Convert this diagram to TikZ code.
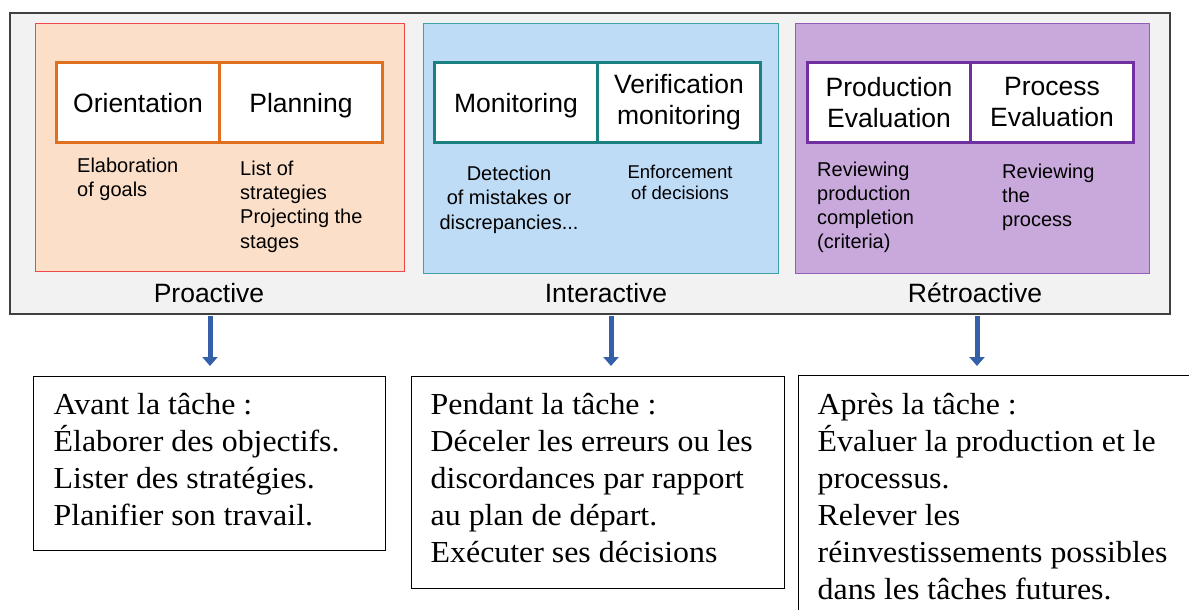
\documentclass[tikz,border=0pt]{standalone}
\usepackage{fontspec}
\setmainfont{Liberation Serif}
\setsansfont{Liberation Sans}
\newfontfamily\bfam[FakeStretch=1.045]{Liberation Serif}
\usetikzlibrary{arrows.meta}
\definecolor{outerfill}{HTML}{F2F2F2}
\definecolor{outerline}{HTML}{404040}
\definecolor{orfill}{HTML}{FBDFC9}
\definecolor{orline}{HTML}{F04848}
\definecolor{orbox}{HTML}{E0701E}
\definecolor{blfill}{HTML}{BFDCF7}
\definecolor{blline}{HTML}{3FA3A3}
\definecolor{blbox}{HTML}{1A8080}
\definecolor{pufill}{HTML}{C9A9DC}
\definecolor{puline}{HTML}{9060B8}
\definecolor{pubox}{HTML}{7030A0}
\definecolor{arrcol}{HTML}{3360A8}
\tikzset{
  panel/.style={draw, line width=1.4pt, anchor=north west, inner sep=0pt},
  inbox/.style={draw, fill=white, line width=3pt, minimum width=163pt, minimum height=79pt,
    inner sep=0pt, align=center, font=\sffamily\fontsize{26.5}{31}\selectfont},
  oneline/.style={text height=19pt, text depth=0pt},
  small/.style={anchor=base west, inner sep=0pt, font=\sffamily\fontsize{20}{24}\selectfont},
  smallc/.style={anchor=base, inner sep=0pt, align=center, font=\sffamily\fontsize{20}{24.5}\selectfont},
  phase/.style={anchor=base, inner sep=0pt, font=\sffamily\fontsize{26.5}{31}\selectfont},
  bbox/.style={draw, line width=1.1pt, anchor=north west, inner sep=0pt},
  btext/.style={anchor=base west, inner sep=0pt, align=left, font=\bfam\fontsize{30.5}{37}\selectfont},
  arr/.style={draw=arrcol, line width=5pt, -{Triangle[width=15pt,length=9pt]}}
}
\begin{document}
\begin{tikzpicture}[x=1pt,y=-1pt]
\clip (0,0) rectangle (1189,610);
\fill[white] (0,0) rectangle (1189,610);
% outer
\node[panel, draw=outerline, fill=outerfill, line width=2pt, minimum width=1160pt, minimum height=301pt] (outer) at (9,12) {};
% panels
\node[panel, draw=orline, fill=orfill, minimum width=369pt, minimum height=248pt] (pro) at (35,23) {};
\node[panel, draw=blline, fill=blfill, minimum width=355pt, minimum height=250pt] (int) at (423,23) {};
\node[panel, draw=puline, fill=pufill, minimum width=354pt, minimum height=250pt] (ret) at (795,23) {};
% inner boxes
\node[inbox, oneline, draw=orbox] (ori) at (138,102.5) {Orientation};
\node[inbox, oneline, draw=orbox] (pla) at (301,102.5) {Planning};
\node[inbox, oneline, draw=blbox] (mon) at (516,102.5) {Monitoring};
\node[inbox, draw=blbox] (ver) at (679,102.5) {Verification\\monitoring};
\node[inbox, draw=pubox] (prod) at (889,102.5) {Production\\Evaluation};
\node[inbox, draw=pubox] (proc) at (1052,102.5) {Process\\Evaluation};
% small texts (anchor = baseline of last line)
\node[small, align=left] (t1) at (77,196) {Elaboration\\of goals};
\node[small, align=left, font=\sffamily\fontsize{20}{24.3}\selectfont] (t2) at (240,248) {List of\\strategies\\Projecting the\\stages};
\node[smallc] (t3) at (509,229) {Detection\\of mistakes or\\discrepancies...};
\node[smallc, font=\sffamily\fontsize{18.5}{21.3}\selectfont] (t4) at (680,199.3) {Enforcement\\of decisions};
\node[small, align=left, font=\sffamily\fontsize{20}{23.7}\selectfont] (t5) at (817,248) {Reviewing\\production\\completion\\(criteria)};
\node[small, align=left] (t6) at (1002,226) {Reviewing\\the\\process};
% phase labels
\node[phase] (lpro) at (209,302) {Proactive};
\node[phase] (lint) at (606,302) {Interactive};
\node[phase] (lret) at (975,302) {Rétroactive};
% bottom boxes
\node[bbox, minimum width=352pt, minimum height=174pt] (b1) at (33,375.5) {};
\node[bbox, minimum width=373pt, minimum height=212pt] (b2) at (410.5,375.5) {};
\node[bbox, minimum width=420pt, minimum height=260pt] (b3) at (798,375) {};
\node[btext] (bt1) at (53.5,525) {Avant la tâche :\\Élaborer des objectifs.\\Lister des stratégies.\\Planifier son travail.};
\node[btext] (bt2) at (430.5,562) {Pendant la tâche :\\Déceler les erreurs ou les\\discordances par rapport\\au plan de départ.\\Exécuter ses décisions};
\node[btext] (bt3) at (817.5,599) {Après la tâche :\\Évaluer la production et le\\processus.\\Relever les\\réinvestissements possibles\\dans les tâches futures.};
% arrows
\coordinate (a1s) at (210,316);
\coordinate (a1e) at (210,366);
\coordinate (a2s) at (611,316);
\coordinate (a2e) at (611,366);
\coordinate (a3s) at (977,316);
\coordinate (a3e) at (977,366);
\draw[arr] (a1s) -- (a1e);
\draw[arr] (a2s) -- (a2e);
\draw[arr] (a3s) -- (a3e);
\end{tikzpicture}
\end{document}
